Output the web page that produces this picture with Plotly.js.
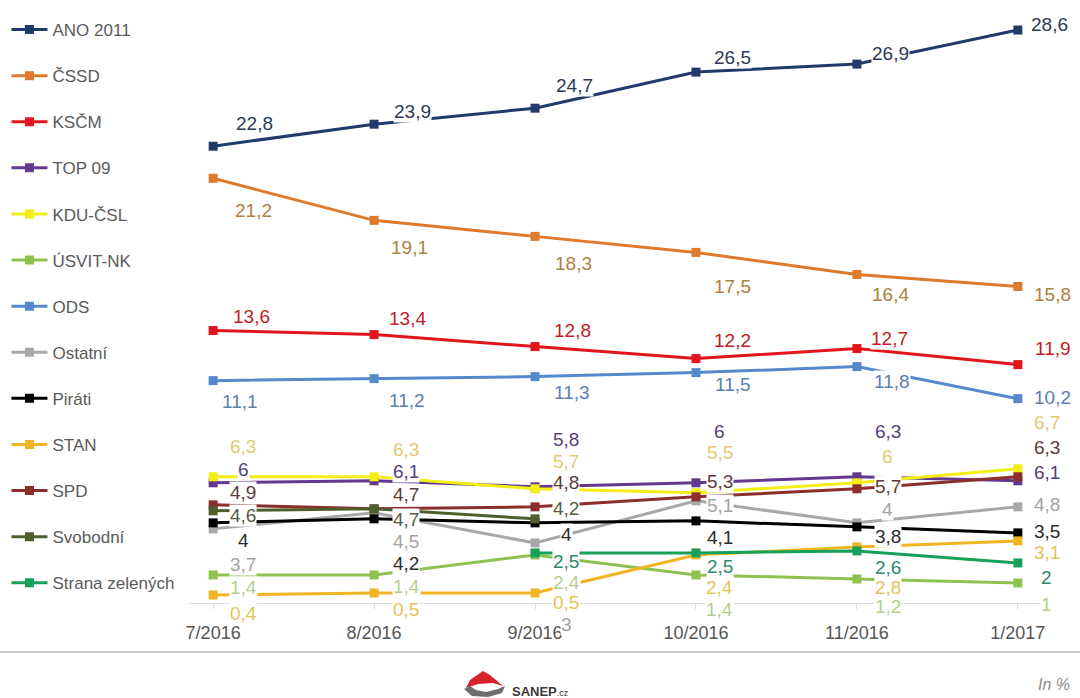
<!DOCTYPE html>
<html>
<head>
<meta charset="utf-8">
<script src="https://cdn.plot.ly/plotly-3.0.1.min.js"></script>
<style>
html,body{margin:0;padding:0;background:#fff;}
#chart{width:1080px;height:698px;}
</style>
</head>
<body>
<div id="chart"></div>
<script>
// ---- data ----
const months = ['7/2016', '8/2016', '9/2016', '10/2016', '11/2016', '1/2017'];
const seriesNames = ['ANO 2011', 'ČSSD', 'KSČM', 'TOP 09', 'KDU-ČSL', 'ÚSVIT-NK', 'ODS', 'Ostatní', 'Piráti', 'STAN', 'SPD', 'Svobodní', 'Strana zelených'];
const ano      = [22.8, 23.9, 24.7, 26.5, 26.9, 28.6];
const cssd     = [21.2, 19.1, 18.3, 17.5, 16.4, 15.8];
const kscm     = [13.6, 13.4, 12.8, 12.2, 12.7, 11.9];
const top09    = [6, 6.1, 5.8, 6, 6.3, 6.1];
const kdu      = [6.3, 6.3, 5.7, 5.5, 6, 6.7];
const usvit    = [1.4, 1.4, 2.4, 1.4, 1.2, 1];
const ods      = [11.1, 11.2, 11.3, 11.5, 11.8, 10.2];
const ostatni  = [3.7, 4.5, 3, 5.1, 4, 4.8];
const pirati   = [4, 4.2, 4, 4.1, 3.8, 3.5];
const stan     = [0.4, 0.5, 0.5, 2.4, 2.8, 3.1];
const spd      = [4.9, 4.7, 4.8, 5.3, 5.7, 6.3];
const svobodni = [4.6, 4.7, 4.2, null, null, null];
const zeleni   = [null, null, 2.5, 2.5, 2.6, 2];
const values = [ano, cssd, kscm, top09, kdu, usvit, ods, ostatni, pirati, stan, spd, svobodni, zeleni];

// ---- styles ----
const lineColors = ['#22396b', '#de7a2c', '#e3151c', '#63398f', '#f2ee16', '#8fc150', '#5589cc', '#a8a8a8', '#000000', '#f0b522', '#8a2f2c', '#4f5f2b', '#16a05a'];
const labelColors = ['#2c3a58', '#b0803f', '#c01b26', '#54407e', '#e2c870', '#b5cf8e', '#5a80b0', '#a3a3a3', '#2b2b2b', '#e6c458', '#5e3b3b', '#555d45', '#2e8870'];
// label offsets in pixels (right, down) from each marker
const colDx = [30, 32, 31, 24, 31, 29];
const labelDx = [
  [41, 38, 39, 37, 34, 32],
  [40, 35, 38, 37, 34, 35],
  [38, 33, 37, 37, 33, 35],
  colDx, colDx, colDx,
  [27, 33, 37, 37, 35, 35],
  colDx, colDx, colDx, colDx, colDx, colDx
];
const labelDy = [
  [-23, -13, -23, -15, -11, -6],
  [32, 27, 27, 34, 20, 8],
  [-14, -16, -16, -18, -10, -16],
  [-13, -9, -47, -51, -45, -8],
  [-30, -27, -27, -40, -26, -46],
  [13, 12, 28, 35, 28, 22],
  [21, 22, 16, 12, 15, -1],
  [36, 29, 82, 5, -13, -2],
  [18, 45, 12, 17, 10, -1],
  [19, 17, 10, 33, 41, 12],
  [-12, -14, -24, -15, -2, -29],
  [5, 11, -10, 0, 0, 0],
  [0, 0, 9, 14, 17, 15]
];

const FONT = 'Liberation Sans, Arial, sans-serif';
const fmt = v => String(v).replace('.', ',');

const traces = seriesNames.map((name, i) => ({
  type: 'scatter',
  mode: 'lines+markers',
  name: name,
  x: months,
  y: values[i],
  legendgroup: 'g' + i,
  line: {color: lineColors[i], width: 3},
  marker: {symbol: 'square', size: 9, color: lineColors[i]},
  connectgaps: false,
  hoverinfo: 'none'
}));

const annotations = [];
seriesNames.forEach((name, i) => {
  values[i].forEach((v, j) => {
    if (v === null) return;
    annotations.push({
      xref: 'x', yref: 'y', x: months[j], y: v,
      text: fmt(v), showarrow: false,
      xanchor: 'center', yanchor: 'middle',
      xshift: labelDx[i][j], yshift: -labelDy[i][j],
      bgcolor: '#ffffff', borderpad: 0,
      font: {family: FONT, size: 19, color: labelColors[i]}
    });
  });
});

// pixel -> paper helpers for decoration
const L = 189, R = 38, T = 10, B = 95, W = 1080, H = 698;
const pw = W - L - R, ph = H - T - B;
const px = x => (x - L) / pw;
const py = y => (H - B - y) / ph;
const path = pts => pts.map((p, k) => (k ? 'L' : 'M') + px(p[0]).toFixed(5) + ',' + py(p[1]).toFixed(5)).join(' ') + ' Z';

annotations.push({
  xref: 'paper', yref: 'paper', x: px(510), y: py(691), xanchor: 'left', yanchor: 'middle',
  text: '<b>SANEP</b><span style="font-size:9px">.cz</span>', showarrow: false,
  font: {family: FONT, size: 13, color: '#3a3a3a'}
});
annotations.push({
  xref: 'paper', yref: 'paper', x: px(1072), y: py(684), xanchor: 'right', yanchor: 'middle',
  text: '<i>In %</i>', showarrow: false,
  font: {family: FONT, size: 16, color: '#8a8a8a'}
});

const shapes = [
  {type: 'line', xref: 'paper', yref: 'paper', x0: px(0), x1: px(1080), y0: py(652), y1: py(652),
   line: {color: '#c8c8c8', width: 2}},
  {type: 'path', xref: 'paper', yref: 'paper',
   path: path([[483, 671], [490, 675], [503, 686], [493, 683], [478, 684], [466, 688], [470, 680]]),
   fillcolor: '#d9232a', line: {width: 0}},
  {type: 'path', xref: 'paper', yref: 'paper',
   path: path([[464, 689], [470, 686], [476, 690], [486, 692], [498, 689], [505, 686], [502, 693], [488, 697], [472, 696]]),
   fillcolor: '#6d6d6d', line: {width: 0}}
];

const layout = {
  width: W, height: H,
  margin: {l: L, r: R, t: T, b: B, pad: 0},
  paper_bgcolor: '#ffffff', plot_bgcolor: '#ffffff',
  showlegend: true,
  legend: {
    xref: 'container', yref: 'container', x: 0.006, y: 1 - 12 / H,
    xanchor: 'left', yanchor: 'top',
    orientation: 'v', tracegroupgap: 21, maxheight: 690,
    font: {family: FONT, size: 17, color: '#5a5a5a'},
    bgcolor: 'rgba(0,0,0,0)', itemwidth: 36
  },
  xaxis: {
    type: 'category', range: [-0.15, 5.15], showgrid: false, zeroline: false,
    showline: true, linecolor: '#dcdcdc', linewidth: 1,
    ticks: 'outside', ticklen: 5, tickcolor: '#dcdcdc',
    ticklabelstandoff: 8,
    tickfont: {family: FONT, size: 18, color: '#555555'},
    fixedrange: true
  },
  yaxis: {range: [0, 29.6], visible: false, fixedrange: true},
  annotations: annotations,
  shapes: shapes
};

Plotly.newPlot('chart', traces, layout, {displayModeBar: false, staticPlot: true});
</script>
</body>
</html>
